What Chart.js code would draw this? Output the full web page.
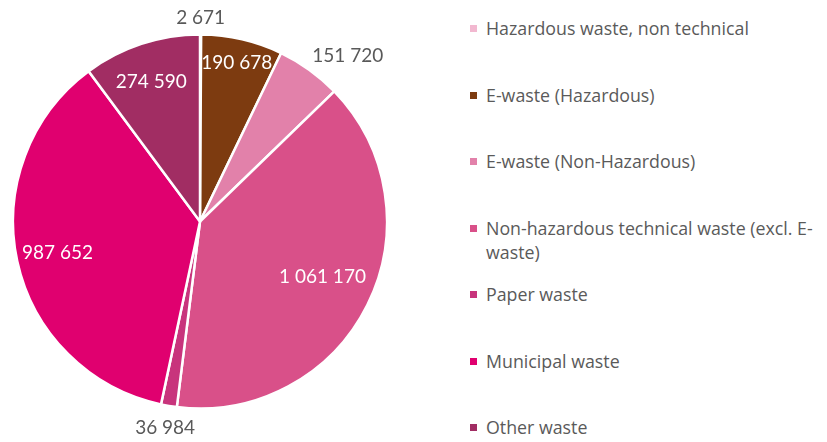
<!DOCTYPE html>
<html>
<head>
<meta charset="utf-8">
<script src="https://cdn.jsdelivr.net/npm/chart.js@4"></script>
<style>
  html, body { margin: 0; padding: 0; background: #ffffff; }
  body { width: 827px; height: 442px; position: relative; overflow: hidden; }
  #pieBox { position: absolute; left: 0; top: 0; width: 400px; height: 442px; }
  #legend { position: absolute; left: 468px; top: 0; width: 357px; height: 442px;
            font-family: "Open Sans", sans-serif; font-size: 17.8px; color: #5a5a5a; }
  .item { position: absolute; left: 0; display: flex; align-items: flex-start; line-height: 24px; }
  .swatch { width: 7px; height: 7px; margin: 9px 9px 0 2px; flex: none; }
</style>
</head>
<body>
<div id="pieBox"><canvas id="pie"></canvas></div>
<div id="legend"></div>
<script>
// Waste volumes by category, clockwise from 12 o'clock
const categories = [
  "Hazardous waste, non technical",
  "E-waste (Hazardous)",
  "E-waste (Non-Hazardous)",
  "Non-hazardous technical waste (excl. E-waste)",
  "Paper waste",
  "Municipal waste",
  "Other waste"
];
const volumes = [2671, 190678, 151720, 1061170, 36984, 987652, 274590];
const sliceColors = ["#f2b8d0", "#7d3b10", "#e281aa", "#d95089", "#c8347c", "#e0006f", "#a12d63"];

// Value label placement: distance as share of radius, small angular nudge (deg), inside/outside
const labelRadius = [1.09, 0.87, 1.185, 0.72, 1.12, 0.78, 0.79];
const labelNudge  = [0, 0, 6, -2, 0, 0, -1];
const labelInside = [false, true, false, true, false, true, true];

function fmt(v) {
  return String(v).replace(/\B(?=(\d{3})+(?!\d))/g, " ");
}

const valueLabels = {
  id: "valueLabels",
  afterDatasetsDraw(chart) {
    const ctx = chart.ctx;
    const meta = chart.getDatasetMeta(0);
    ctx.save();
    ctx.font = "19px Lato, sans-serif";
    ctx.textAlign = "center";
    ctx.textBaseline = "middle";
    meta.data.forEach((arc, i) => {
      const p = arc.getProps(["x", "y", "startAngle", "endAngle", "outerRadius"], true);
      const mid = (p.startAngle + p.endAngle) / 2 + labelNudge[i] * Math.PI / 180;
      const r = p.outerRadius * labelRadius[i];
      const x = p.x + Math.cos(mid) * r;
      const y = p.y + Math.sin(mid) * r;
      ctx.fillStyle = labelInside[i] ? "#ffffff" : "#595959";
      ctx.fillText(fmt(volumes[i]), x, y);
    });
    ctx.restore();
  }
};

new Chart(document.getElementById("pie"), {
  type: "pie",
  data: {
    labels: categories,
    datasets: [{
      data: volumes,
      backgroundColor: sliceColors,
      borderColor: "#ffffff",
      borderWidth: 2.5,
      hoverOffset: 0
    }]
  },
  options: {
    responsive: true,
    maintainAspectRatio: false,
    animation: false,
    radius: 187,
    layout: { padding: { top: 1, bottom: 0 } },
    plugins: { legend: { display: false }, tooltip: { enabled: false } }
  },
  plugins: [valueLabels]
});

// Legend on the right, one slot per category
const legend = document.getElementById("legend");
categories.forEach((name, i) => {
  const item = document.createElement("div");
  item.className = "item";
  item.style.top = (16 + i * 66.5) + "px";
  const sw = document.createElement("span");
  sw.className = "swatch";
  sw.style.background = sliceColors[i];
  const tx = document.createElement("span");
  tx.textContent = name;
  item.appendChild(sw);
  item.appendChild(tx);
  legend.appendChild(item);
});
</script>
</body>
</html>
